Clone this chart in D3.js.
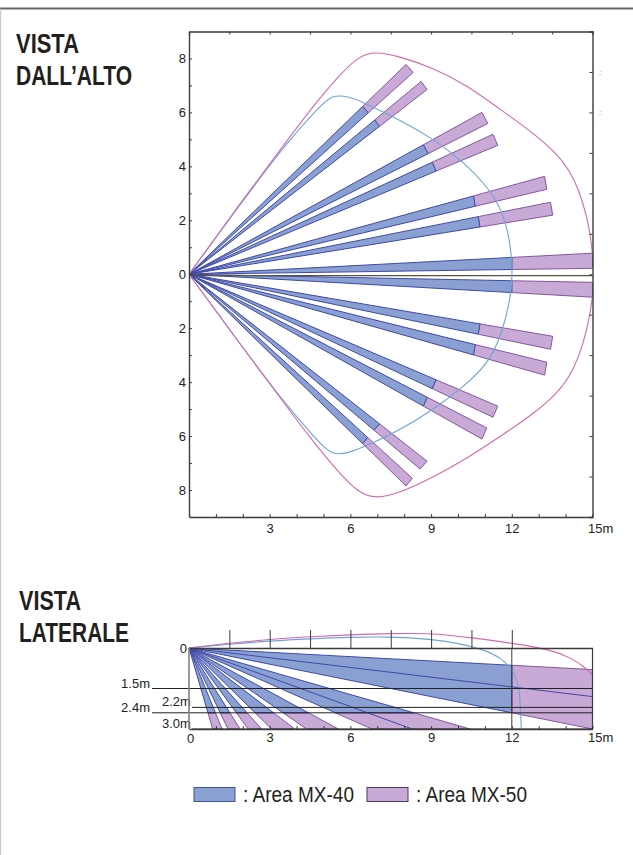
<!DOCTYPE html>
<html>
<head>
<meta charset="utf-8">
<script src="https://cdn.jsdelivr.net/npm/d3@7"></script>
<style>
    html, body {margin: 0; padding: 0; background: #fff;}
    svg {display: block;}
    text {font-family: "Liberation Sans", Arial, sans-serif; fill: #222;}
    .title {font-family: "Liberation Sans Narrow", "Liberation Sans", sans-serif; font-weight: bold; font-size: 27px; fill: #231f20;}
    .legend {font-family: "Liberation Sans Narrow", "Liberation Sans", sans-serif; font-size: 22px; fill: #231f20;}
</style>
</head>
<body>
<svg id="chart" width="633" height="855"></svg>
<script>
// far end of each beam seen from above: x1, y1, x2, y2 in metres
const topBeams = [
    [8.07, 7.78, 8.33, 7.48],
    [8.63, 7.15, 8.85, 6.85],
    [10.89, 6.0, 11.11, 5.59],
    [11.3, 5.19, 11.48, 4.78],
    [13.22, 3.63, 13.3, 3.15],
    [13.44, 2.67, 13.52, 2.19],
    [15, 0.78, 15, 0.22],
    [15, -0.3, 15, -0.85],
    [13.52, -2.3, 13.44, -2.78],
    [13.3, -3.26, 13.22, -3.74],
    [11.48, -4.89, 11.3, -5.3],
    [11.07, -5.7, 10.89, -6.11],
    [8.85, -6.93, 8.59, -7.22],
    [8.3, -7.56, 8.07, -7.85]
];
// share of the beam covered by MX-40, the rest is MX-50
const mx40Share = 0.8;

const topOutline50 = [
    [0, 0], [1.8, 2.5], [3.63, 4.93], [4.6, 6.22], [5.48, 7.26], [6.3, 8.1], [6.96, 8.26], [7.81, 8.08],
    [9.04, 7.67], [10.3, 7.03], [11.52, 6.15], [12.74, 5.28], [13.63, 4.52], [14.15, 3.85],
    [14.5, 3.11], [14.8, 2.11], [14.95, 1.26], [15, 0.7]
];
const bottomOutline50 = [
    [0, 0], [1.8, -2.45], [3.37, -4.55], [4.48, -6.04], [5.48, -7.26], [6.3, -8.12], [6.96, -8.32], [7.81, -8.12],
    [9.04, -7.55], [10.3, -6.85], [11.52, -6.05], [12.74, -5.22], [13.63, -4.48], [14.15, -3.8],
    [14.5, -3.05], [14.8, -2.05], [14.95, -1.2], [15, -0.8]
];
const outline40 = [
    [0, 0], [1.8, 2.45], [3.6, 4.85], [4.8, 6.15], [5.3, 6.65], [5.9, 6.6], [6.5, 6.36], [7.1, 6.07], [7.81, 5.73],
    [9.04, 5.04], [10.15, 4.22], [11.15, 3.19], [11.63, 2.37], [11.92, 1.37], [12.05, 0.04],
    [11.92, -1.07], [11.63, -2.19], [11.15, -3.3], [10.15, -4.22], [9.04, -5.04], [7.81, -5.8],
    [6.6, -6.36], [5.9, -6.64], [5.3, -6.7], [4.8, -6.2], [3.4, -4.6], [1.8, -2.45], [0, 0]
];

// beams seen from the side: x1, depth1, x2, depth2 at the far end
const sideBeams = [
    [15, 0.8, 15, 3],
    [10.45, 3, 6.8, 3],
    [5.55, 3, 4.37, 3],
    [3.93, 3, 3.07, 3],
    [2.7, 3, 2.2, 3],
    [1.9, 3, 1.45, 3],
    [1.23, 3, 0.88, 3]
];
const sideCentreLines = [[15, 1.8], [8.3, 3]];
const sideOutline50 = [
    [0, 0], [1.5, -0.18], [3, -0.32], [4.5, -0.42], [6, -0.49], [7.5, -0.54], [9, -0.54], [9.7, -0.47],
    [10.6, -0.37], [12, -0.18], [13.5, 0.07], [14.2, 0.37], [14.7, 0.7], [15, 1.0]
];
const sideOutline40 = [
    [0, 0], [1.5, -0.14], [3, -0.26], [4.5, -0.34], [6, -0.4], [7.5, -0.42], [9, -0.33], [10, -0.18],
    [11, 0.07], [11.6, 0.37], [12.05, 0.81], [12.3, 1.44], [12.35, 2.96]
];

const xLabelled = [0, 3, 6, 9, 12, 15];
const yLabelled = [-8, -6, -4, -2, 0, 2, 4, 6, 8];
const xMinor = d3.range(1, 15);
const yMinor = d3.range(-8, 9);
const coarseX = [1.5, 3, 4.5, 6, 7.5, 9, 10.5, 12, 13.5];
const coarseY = [-7.5, -6, -4.5, -3, -1.5, 0, 1.5, 3, 4.5, 6, 7.5];
const sideTicks = [1.5, 3, 4.5, 6, 7.5, 9, 10.5, 12];
const mountHeights = [
    {h: 1.5, label: "1.5m"},
    {h: 2.2, label: "2.2m"},
    {h: 2.4, label: "2.4m"},
    {h: 3.0, label: "3.0m"}
];
const legendItems = [": Area MX-40", ": Area MX-50"];

const blue = "#8a9fd2", purple = "#c9a9d5";
const blueEdge = "#3f4aa8", purpleEdge = "#83589f";
const pink = "#d468ae", sky = "#6ea4d8";
const frame = "#3d3a3a";

const svg = d3.select("#chart");

// page border
svg.append("line").attr("x1", 0).attr("x2", 633).attr("y1", 8.5).attr("y2", 8.5)
    .attr("stroke", "#666").attr("stroke-width", 2);
svg.append("line").attr("x1", 0.5).attr("x2", 0.5).attr("y1", 9).attr("y2", 855)
    .attr("stroke", "#ccc").attr("stroke-width", 1.5);

// titles
const titles = [
    {text: "VISTA", x: 16, y: 53, w: 63},
    {text: "DALL’ALTO", x: 16, y: 85, w: 116},
    {text: "VISTA", x: 19, y: 610, w: 62},
    {text: "LATERALE", x: 19, y: 642, w: 110}
];
svg.selectAll(".title").data(titles).join("text")
    .attr("class", "title")
    .attr("x", d => d.x).attr("y", d => d.y)
    .attr("textLength", d => d.w).attr("lengthAdjust", "spacingAndGlyphs")
    .text(d => d.text);

const x = d3.scaleLinear().domain([0, 15]).range([189, 592.5]);
const y = d3.scaleLinear().domain([-9, 9]).range([517, 31.5]);
const depth = d3.scaleLinear().domain([0, 3]).range([648, 729]);

const topLine = d3.line().x(d => x(d[0])).y(d => y(d[1]));
const sideLine = d3.line().x(d => x(d[0])).y(d => depth(d[1]));

function drawBeams(g, beams, line) {
    const parts = g.selectAll("g").data(beams).join("g");
    const s = mx40Share;
    parts.append("path")
        .attr("d", b => line([[b[0] * s, b[1] * s], [b[0], b[1]], [b[2], b[3]], [b[2] * s, b[3] * s]]) + "Z")
        .attr("fill", purple).attr("stroke", purpleEdge).attr("stroke-width", 1);
    parts.append("path")
        .attr("d", b => line([[0, 0], [b[0] * s, b[1] * s], [b[2] * s, b[3] * s]]) + "Z")
        .attr("fill", blue).attr("stroke", blueEdge).attr("stroke-width", 1);
}

function drawOutline(parent, points, line, colour) {
    parent.append("path").attr("fill", "none").attr("stroke", colour).attr("stroke-width", 1.1)
        .attr("d", line.curve(d3.curveBasis)(points));
    line.curve(d3.curveLinear);
}

function styleAxis(g, colour) {
    g.select(".domain").attr("stroke", colour).attr("stroke-width", 1.4);
    g.selectAll(".tick line").attr("stroke", colour);
    g.selectAll("text").attr("font-size", 13).attr("fill", "#222").attr("font-family", "Liberation Sans");
}

// ---- view from above
const topChart = svg.append("g");
topChart.append("g").call(drawBeams, topBeams, topLine);
topChart.append("line").attr("x1", x(0)).attr("x2", x(15)).attr("y1", y(-0.05)).attr("y2", y(-0.05))
    .attr("stroke", "#55553f").attr("stroke-width", 1.2);
drawOutline(topChart, outline40, topLine, sky);
drawOutline(topChart, topOutline50, topLine, pink);
drawOutline(topChart, bottomOutline50, topLine, pink);

topChart.append("g").attr("transform", `translate(0,${y(9)})`)
    .call(d3.axisBottom(x).tickValues(coarseX).tickSize(3).tickFormat(""))
    .call(styleAxis, frame);
topChart.append("g").attr("transform", `translate(${x(15)},0)`)
    .call(d3.axisLeft(y).tickValues(coarseY).tickSize(3).tickFormat(""))
    .call(styleAxis, frame);
topChart.append("g").attr("transform", `translate(0,${y(-9)})`)
    .call(d3.axisBottom(x).tickValues(xMinor.concat(15)).tickSizeInner(-3).tickSizeOuter(0).tickPadding(6.5)
        .tickFormat(d => xLabelled.includes(d) ? (d === 15 ? "15m" : d) : ""))
    .call(styleAxis, frame)
    .call(g => g.selectAll(".tick text").filter(d => d === 15).attr("text-anchor", "start").attr("x", -5));
topChart.append("g").attr("transform", `translate(${x(0)},0)`)
    .call(d3.axisLeft(y).tickValues(yMinor).tickSizeInner(-3).tickSizeOuter(0).tickPadding(3)
        .tickFormat(d => yLabelled.includes(d) ? Math.abs(d) : ""))
    .call(styleAxis, frame);

// specks next to the right edge of the scan
topChart.selectAll(".speck").data([7.5, 6]).join("text")
    .attr("class", "speck")
    .attr("x", 600).attr("y", d => y(d) + 3)
    .attr("font-size", 8).attr("text-anchor", "middle").style("fill", "#888")
    .text(":");

// ---- view from the side
const sideChart = svg.append("g");
sideChart.append("g").call(drawBeams, sideBeams, sideLine);
sideChart.selectAll(".centre").data(sideCentreLines).join("path")
    .attr("class", "centre").attr("fill", "none").attr("stroke", blueEdge).attr("stroke-width", 1)
    .attr("d", d => sideLine([[0, 0], d]));

drawOutline(sideChart, sideOutline40, sideLine, sky);
drawOutline(sideChart, sideOutline50, sideLine, pink);

// mounting height lines
sideChart.selectAll(".height").data(mountHeights).join("line")
    .attr("class", "height")
    .attr("x1", d => d.h === 2.2 || d.h === 3 ? x(0) + 3 : 152)
    .attr("x2", x(15))
    .attr("y1", d => depth(d.h)).attr("y2", d => depth(d.h))
    .attr("stroke", "#222").attr("stroke-width", 1);
sideChart.selectAll(".heightLabel").data(mountHeights).join("text")
    .attr("class", "heightLabel")
    .attr("font-size", 13)
    .attr("text-anchor", d => d.h === 2.2 || d.h === 3 ? "start" : "end")
    .attr("x", d => d.h === 2.2 || d.h === 3 ? 162 : 150)
    .attr("y", d => depth(d.h) + (d.h === 3 ? -1.5 : -1))
    .text(d => d.label);

sideChart.append("g").attr("transform", `translate(0,${depth(0)})`)
    .call(d3.axisTop(x).tickValues(sideTicks).tickSizeInner(18).tickSizeOuter(0).tickFormat(""))
    .call(styleAxis, frame);
sideChart.append("line").attr("x1", x(12)).attr("x2", x(12)).attr("y1", depth(0)).attr("y2", depth(3))
    .attr("stroke", frame).attr("stroke-width", 1);
sideChart.append("line").attr("x1", x(15)).attr("x2", x(15)).attr("y1", depth(0)).attr("y2", depth(3))
    .attr("stroke", frame).attr("stroke-width", 1.2);
sideChart.append("g").attr("transform", `translate(0,${depth(3)})`)
    .call(d3.axisBottom(x).tickValues(xMinor.concat(15, 0)).tickSizeInner(-3).tickSizeOuter(0).tickPadding(3.5)
        .tickFormat(d => xLabelled.includes(d) ? (d === 15 ? "15m" : d) : ""))
    .call(styleAxis, frame)
    .call(g => g.selectAll(".tick text").filter(d => d === 15).attr("text-anchor", "start").attr("x", -5))
    .call(g => g.selectAll(".tick text").filter(d => d === 0).attr("y", 5).attr("x", 1));
sideChart.append("line").attr("x1", x(0)).attr("x2", x(0)).attr("y1", depth(0)).attr("y2", depth(3))
    .attr("stroke", "#8a7f7a").attr("stroke-width", 1.6);
sideChart.append("text").attr("x", x(0) - 2).attr("y", depth(0) + 4.5).attr("text-anchor", "end")
    .attr("font-size", 13).text("0");

// ---- legend
const legend = svg.append("g");
const legendPos = d3.scalePoint().domain(legendItems).range([194, 367]);
const legendFill = d3.scaleOrdinal().domain(legendItems).range([blue, purple]);
const legendEdge = d3.scaleOrdinal().domain(legendItems).range(["#3f5590", "#4a3a6a"]);
legend.selectAll("rect").data(legendItems).join("rect")
    .attr("x", d => legendPos(d)).attr("y", 787.5).attr("width", 41).attr("height", 14)
    .attr("fill", legendFill).attr("stroke", legendEdge).attr("stroke-width", 1);
legend.selectAll("text").data(legendItems).join("text")
    .attr("class", "legend")
    .attr("x", d => legendPos(d) + 49).attr("y", 802)
    .attr("textLength", 111).attr("lengthAdjust", "spacingAndGlyphs")
    .text(d => d);
</script>
</body>
</html>
